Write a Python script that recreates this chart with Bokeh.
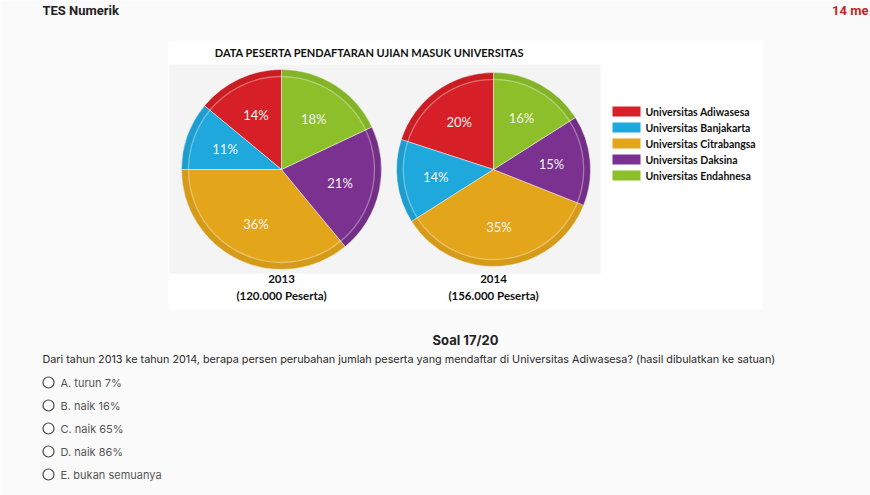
import numpy as np
from bokeh.plotting import figure
from bokeh.models import Range1d
from bokeh.core.properties import value
from bokeh.embed import file_html
from bokeh.resources import INLINE

# ---------------- data ----------------
universities = ["Universitas Adiwasesa", "Universitas Banjakarta", "Universitas Citrabangsa",
                "Universitas Daksina", "Universitas Endahnesa"]
colors = ["#d61f26", "#1fa8dc", "#e3a51a", "#7b318f", "#8cbf2a"]
pct_2013 = [14, 11, 36, 21, 18]
pct_2014 = [20, 14, 35, 15, 16]
years = ["2013", "2014"]
peserta = ["120.000", "156.000"]
chart_title = "DATA PESERTA PENDAFTARAN UJIAN MASUK UNIVERSITAS"
header_left = "TES Numerik"
header_right = "14 me"
soal = "Soal 17/20"
question = ("Dari tahun 2013 ke tahun 2014, berapa persen perubahan jumlah peserta yang mendaftar "
            "di Universitas Adiwasesa? (hasil dibulatkan ke satuan)")
options = ["A. turun 7%", "B. naik 16%", "C. naik 65%", "D. naik 86%", "E. bukan semuanya"]

# ---------------- layout ----------------
W, H = 870, 495
def Y(py):
    return H - py

p = figure(width=W, height=H, output_backend="svg", toolbar_location=None,
           x_range=Range1d(0, W), y_range=Range1d(0, H), min_border=0)
p.axis.visible = False
p.grid.visible = False
p.outline_line_color = None
p.background_fill_color = "#fafafa"
p.border_fill_color = "#fafafa"

# image box
p.quad(left=168, right=762, top=Y(40), bottom=Y(309), fill_color="white", line_color=None)
p.quad(left=169, right=600, top=Y(64), bottom=Y(273), fill_color="#f4f4f4", line_color=None)

# header
p.text(x=[42], y=[Y(10)], text=[header_left], text_font=value("Roboto"), text_font_style="bold",
       text_font_size="13px", text_color="#222222", text_baseline="middle")
p.text(x=[868], y=[Y(10)], text=[header_right], text_font=value("Roboto"), text_font_style="bold",
       text_font_size="13px", text_color="#c81e1e", text_baseline="middle", text_align="right")

# chart title
p.text(x=[369], y=[Y(52)], text=[chart_title], text_font=value("Lato"), text_font_style="bold",
       text_font_size="11px", text_color="#111111", text_baseline="middle", text_align="center")

# pies
centers_x = [281, 493]
center_y = Y(169)
radii = [100, 97]
font = value("Lato")
for i, pcts in enumerate([pct_2013, pct_2014]):
    frac = np.array(pcts, dtype=float) / 100.0
    cum = np.concatenate([[0.0], np.cumsum(frac)])
    starts = np.pi / 2 + 2 * np.pi * cum[:-1]
    ends = np.pi / 2 + 2 * np.pi * cum[1:]
    cx, r = centers_x[i], radii[i]
    p.wedge(x=cx, y=center_y, radius=r, start_angle=starts, end_angle=ends,
            fill_color=colors, line_color="white", line_alpha=0.45, line_width=1)
    # darker rim and light inner ring for a bit of depth
    p.annulus(x=[cx], y=[center_y], inner_radius=r * 0.93, outer_radius=r,
              fill_color="black", fill_alpha=0.06, line_color=None)
    p.circle(x=[cx], y=[center_y], radius=r * 0.93, fill_color=None,
             line_color="white", line_alpha=0.35, line_width=1.3)
    mids = (starts + ends) / 2
    lx = cx + 0.6 * r * np.cos(mids)
    ly = center_y + 0.6 * r * np.sin(mids)
    p.text(x=lx, y=ly, text=[f"{v}%" for v in pcts], text_font=font, text_font_size="13px",
           text_color="#f4f4f4", text_align="center", text_baseline="middle")
    p.text(x=[cx], y=[Y(278)], text=[years[i]], text_font=font, text_font_style="bold",
           text_font_size="11.5px", text_color="#111111", text_align="center", text_baseline="middle")
    p.text(x=[cx], y=[Y(295)], text=[f"({peserta[i]} Peserta)"], text_font=font,
           text_font_style="bold", text_font_size="11.5px", text_color="#111111",
           text_align="center", text_baseline="middle")

# legend
leg_y = [Y(111 + 16 * k) for k in range(len(universities))]
p.rect(x=[626] * len(universities), y=leg_y, width=28, height=10, fill_color=colors, line_color=None)
p.text(x=[645] * len(universities), y=leg_y, text=universities, text_font=font,
       text_font_style="bold", text_font_size="10.5px", text_color="#111111", text_baseline="middle")

# question area
p.text(x=[465], y=[Y(339)], text=[soal], text_font=value("Inter"), text_font_style="bold",
       text_font_size="13px", text_color="#222222", text_align="center", text_baseline="middle")
p.text(x=[42], y=[Y(359)], text=[question], text_font=value("Inter"), text_font_size="10.8px",
       text_color="#2a2a2a", text_baseline="middle")
opt_y = [Y(382 + 23 * k) for k in range(len(options))]
p.scatter(x=[48] * len(options), y=opt_y, size=11, marker="circle", fill_color="white",
          line_color="#444444", line_width=1.2)
p.text(x=[60] * len(options), y=opt_y, text=options, text_font=value("Inter"), text_font_size="11px",
       text_color="#555555", text_baseline="middle")

open("out.html", "w").write(file_html(p, INLINE))
